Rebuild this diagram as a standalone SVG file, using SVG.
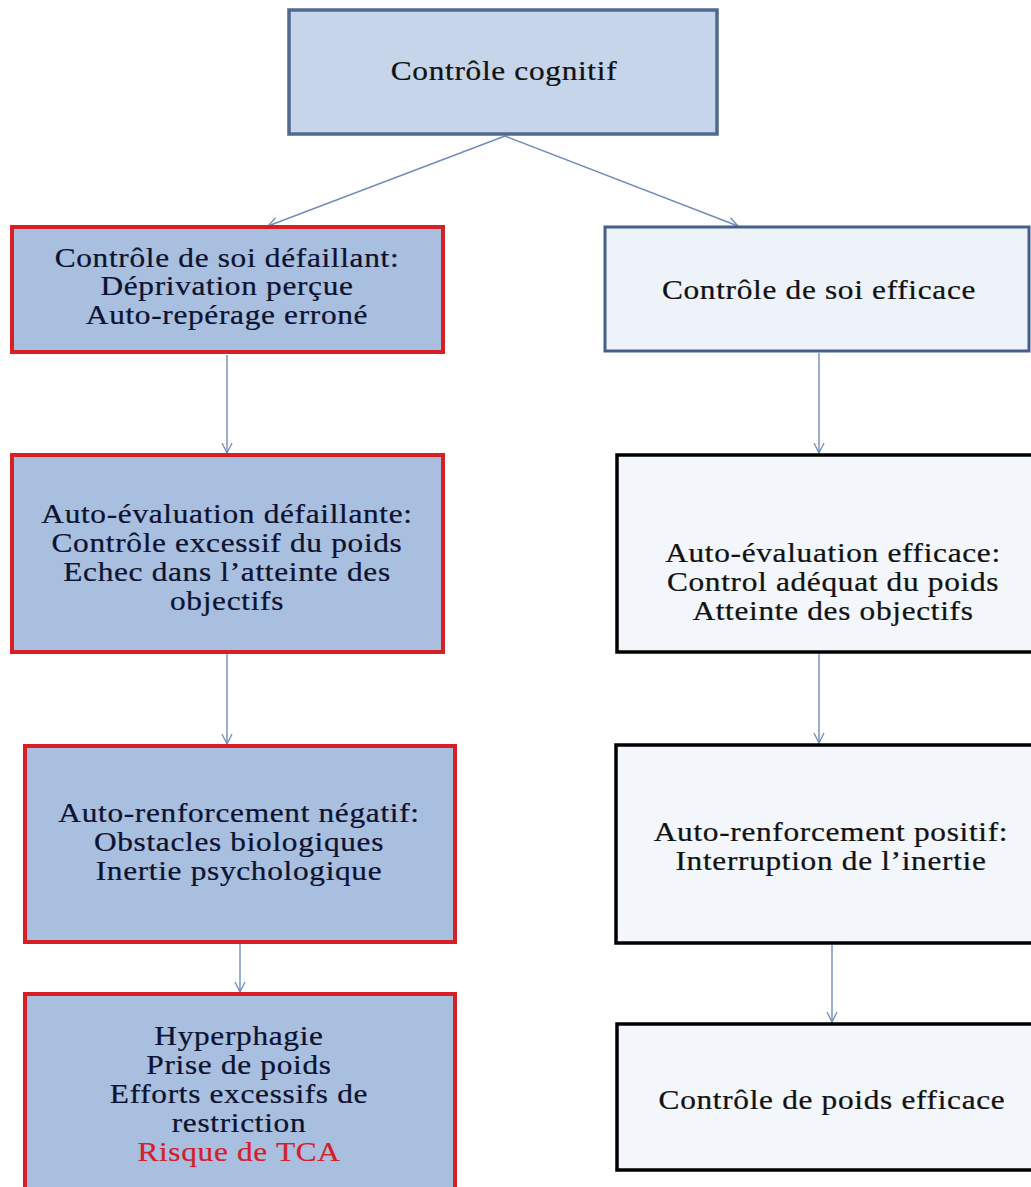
<svg xmlns="http://www.w3.org/2000/svg" width="1031" height="1187" viewBox="0 0 1031 1187">
<defs>
<marker id="arr" viewBox="0 0 12 12" refX="11" refY="6" markerWidth="12" markerHeight="12" markerUnits="userSpaceOnUse" orient="auto">
<path d="M1,1 L11,6 L1,11" fill="none" stroke="#6f8cba" stroke-width="1.3"/>
</marker>
<style>
.t{font-family:"Liberation Serif","Times New Roman",serif;font-size:28px;letter-spacing:0.6px;text-anchor:middle;fill:#111;stroke:#111;stroke-width:0.25}
.dk{fill:#0d1230;stroke:#0d1230}
.red{fill:#d3202a;stroke:#d3202a}
.lbox{fill:#a8bfdf;stroke:#d81f26;stroke-width:4}
.rbox{fill:#f3f6fb;stroke:#000;stroke-width:3.5}
.conn{fill:none;stroke:#6f8cba;stroke-width:1.4;marker-end:url(#arr)}
</style>
</defs>
<rect width="1031" height="1187" fill="#fff"/>
<g id="connectors">
<line class="conn" x1="505" y1="136" x2="268" y2="226"/>
<line class="conn" x1="505" y1="136" x2="738" y2="226"/>
<line class="conn" x1="227" y1="355" x2="227" y2="453"/>
<line class="conn" x1="227" y1="654" x2="227" y2="744"/>
<line class="conn" x1="240" y1="944" x2="240" y2="992"/>
<line class="conn" x1="819" y1="353" x2="819" y2="453"/>
<line class="conn" x1="819" y1="654" x2="819" y2="743"/>
<line class="conn" x1="832" y1="945" x2="832" y2="1022"/>
</g>
<g id="n-top">
<rect x="289" y="10" width="428" height="124" fill="#c6d5ea" stroke="#4f6a8f" stroke-width="3.5"/>
<g transform="translate(504,0) scale(1.12,1)">
<text class="t" x="0" y="80">Contrôle cognitif</text>
</g>
</g>
<g id="n-l1">
<rect class="lbox" x="12" y="227" width="431" height="125"/>
<g transform="translate(227,0) scale(1.12,1)">
<text class="t dk" x="0" y="267">Contrôle de soi défaillant:</text>
<text class="t dk" x="0" y="295">Déprivation perçue</text>
<text class="t dk" x="0" y="324">Auto-repérage erroné</text>
</g>
</g>
<g id="n-r1">
<rect x="605" y="227" width="424" height="124" fill="#eef3fa" stroke="#44608a" stroke-width="3"/>
<g transform="translate(819,0) scale(1.12,1)">
<text class="t" x="0" y="299">Contrôle de soi efficace</text>
</g>
</g>
<g id="n-l2">
<rect class="lbox" x="12" y="455" width="431" height="197"/>
<g transform="translate(227,0) scale(1.12,1)">
<text class="t dk" x="0" y="523">Auto-évaluation défaillante:</text>
<text class="t dk" x="0" y="552">Contrôle excessif du poids</text>
<text class="t dk" x="0" y="581">Echec dans l’atteinte des</text>
<text class="t dk" x="0" y="610">objectifs</text>
</g>
</g>
<g id="n-r2">
<rect class="rbox" x="617" y="455" width="430" height="197"/>
<g transform="translate(833,0) scale(1.12,1)">
<text class="t" x="0" y="562">Auto-évaluation efficace:</text>
<text class="t" x="0" y="591">Control adéquat du poids</text>
<text class="t" x="0" y="620">Atteinte des objectifs</text>
</g>
</g>
<g id="n-l3">
<rect class="lbox" x="25" y="746" width="430" height="196"/>
<g transform="translate(239,0) scale(1.12,1)">
<text class="t dk" x="0" y="822">Auto-renforcement négatif:</text>
<text class="t dk" x="0" y="851">Obstacles biologiques</text>
<text class="t dk" x="0" y="880">Inertie psychologique</text>
</g>
</g>
<g id="n-r3">
<rect class="rbox" x="616" y="745" width="430" height="198"/>
<g transform="translate(831,0) scale(1.12,1)">
<text class="t" x="0" y="841">Auto-renforcement positif:</text>
<text class="t" x="0" y="870">Interruption de l’inertie</text>
</g>
</g>
<g id="n-l4">
<rect class="lbox" x="25" y="994" width="430" height="220"/>
<g transform="translate(239,0) scale(1.12,1)">
<text class="t dk" x="0" y="1045">Hyperphagie</text>
<text class="t dk" x="0" y="1074">Prise de poids</text>
<text class="t dk" x="0" y="1103">Efforts excessifs  de</text>
<text class="t dk" x="0" y="1132">restriction</text>
<text class="t red" x="0" y="1161">Risque de TCA</text>
</g>
</g>
<g id="n-r4">
<rect class="rbox" x="617" y="1024" width="430" height="146"/>
<g transform="translate(832,0) scale(1.12,1)">
<text class="t" x="0" y="1109">Contrôle de poids efficace</text>
</g>
</g>
</svg>
